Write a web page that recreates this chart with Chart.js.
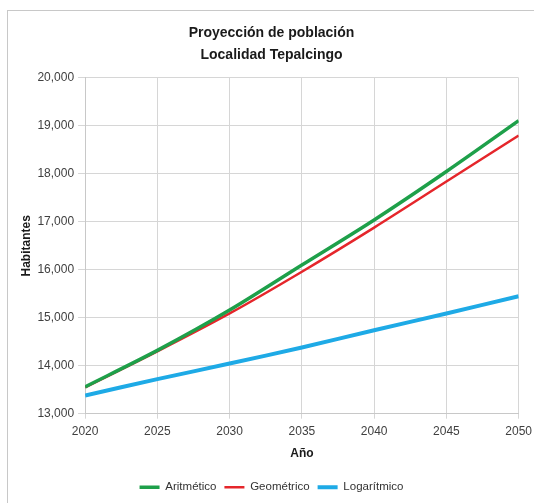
<!DOCTYPE html>
<html>
<head>
<meta charset="utf-8">
<script src="https://cdn.jsdelivr.net/npm/chart.js@4/dist/chart.umd.min.js"></script>
<style>
  html, body { margin:0; padding:0; background:#fff; }
  #wrap { position:relative; width:534px; height:503px; overflow:hidden; }
  #frame { position:absolute; left:7px; top:10px; width:540px; height:510px; border:1px solid #c8c8c8; box-sizing:border-box; }
  canvas { position:absolute; left:0; top:0; }
</style>
</head>
<body>
<div id="wrap">
  <div id="frame"></div>
  <canvas id="chart" width="538" height="503"></canvas>
</div>
<script>
const years = [2020, 2025, 2030, 2035, 2040, 2045, 2050];
const aritmetico = [13560, 14320, 15160, 16100, 17040, 18050, 19110];
const geometrico = [13550, 14300, 15090, 15960, 16880, 17840, 18800];
const logaritmico = [13380, 13720, 14045, 14380, 14740, 15090, 15450];

const pts = vals => years.map((y, i) => ({ x: y, y: vals[i] }));
const font = 'Liberation Sans, Arial, sans-serif';

new Chart(document.getElementById('chart').getContext('2d'), {
  type: 'line',
  data: {
    datasets: [
      { label: 'Aritmético', data: pts(aritmetico), borderColor: '#1ea04a', backgroundColor: '#1ea04a', borderWidth: 3.5, pointRadius: 0, tension: 0.3 },
      { label: 'Geométrico', data: pts(geometrico), borderColor: '#e5262b', backgroundColor: '#e5262b', borderWidth: 2.5, pointRadius: 0, tension: 0.3 },
      { label: 'Logarítmico', data: pts(logaritmico), borderColor: '#1eaae6', backgroundColor: '#1eaae6', borderWidth: 4, pointRadius: 0, tension: 0.3 }
    ]
  },
  options: {
    responsive: false,
    animation: false,
    locale: 'en-US',
    layout: { padding: { left: 12, right: 7, top: 22, bottom: 0 } },
    plugins: {
      title: {
        display: true,
        text: ['Proyección de población', 'Localidad Tepalcingo'],
        color: '#1a1a1a',
        font: { family: font, size: 14, weight: 'bold', lineHeight: 1.57 },
        padding: { top: 0, bottom: 12 }
      },
      legend: {
        position: 'bottom',
        labels: {
          usePointStyle: true,
          pointStyle: 'line',
          pointStyleWidth: 20,
          color: '#333',
          font: { family: font, size: 11.5 },
          padding: 8
        }
      },
      tooltip: { enabled: false }
    },
    scales: {
      x: {
        type: 'linear',
        min: 2020, max: 2050,
        ticks: { stepSize: 5, color: '#404040', font: { family: font, size: 12 }, callback: v => String(v), padding: 6 },
        grid: { color: '#d6d6d6', tickLength: 5 },
        border: { color: '#c8c8c8' },
        title: { display: true, text: 'Año', color: '#1a1a1a', font: { family: font, size: 12, weight: 'bold' }, padding: { top: 1, bottom: 13 } }
      },
      y: {
        min: 13000, max: 20000,
        ticks: { stepSize: 1000, color: '#404040', font: { family: font, size: 12 }, padding: 4 },
        grid: { color: '#d6d6d6', tickLength: 7 },
        border: { color: '#c8c8c8' },
        title: { display: true, text: 'Habitantes', color: '#1a1a1a', font: { family: font, size: 12, weight: 'bold' }, padding: { top: 7, bottom: 0 } }
      }
    }
  }
});
</script>
</body>
</html>
